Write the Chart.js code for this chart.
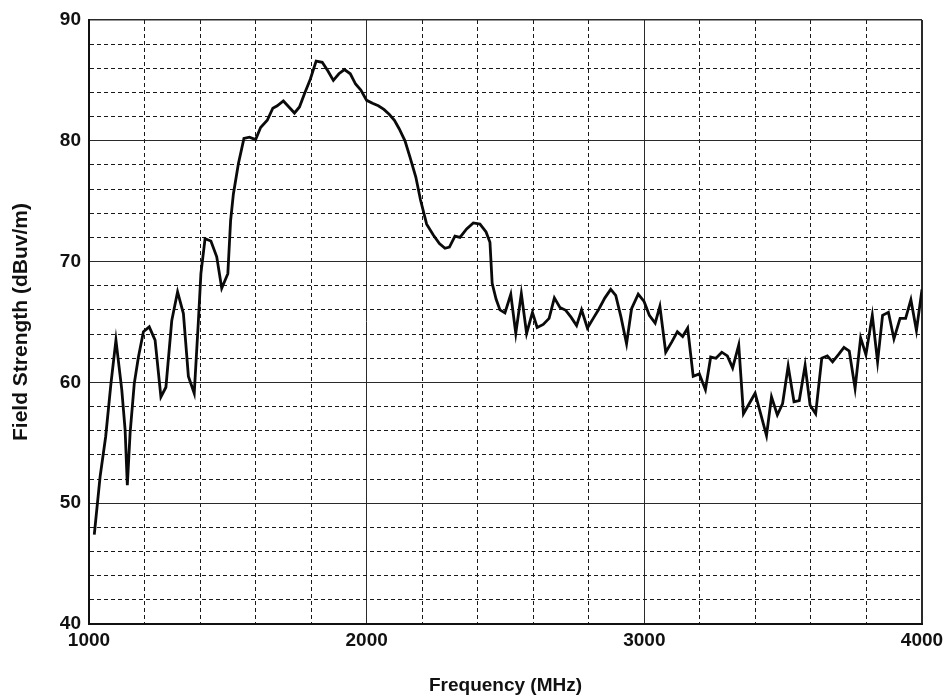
<!DOCTYPE html>
<html>
<head>
<meta charset="utf-8">
<title>Field Strength</title>
<script src="https://cdn.jsdelivr.net/npm/chart.js@4.4.1/dist/chart.umd.min.js"></script>
<style>
    html, body { margin: 0; padding: 0; background: #fff; }
    #fieldChart { display: block; }
</style>
</head>
<body>
<canvas id="fieldChart" width="950" height="700"></canvas>
<script>
// measured sweep: frequency (MHz) and field strength (dBuV/m)
const frequencies = [
    1019, 1040, 1060, 1079, 1097, 1118, 1130, 1138, 1148, 1163,
    1178, 1196, 1217, 1238, 1259, 1277, 1298, 1319, 1340, 1358,
    1379, 1394, 1403, 1418, 1439, 1460, 1478, 1500, 1510, 1520,
    1538, 1558, 1578, 1600, 1618, 1642, 1662, 1678, 1700, 1720,
    1740, 1758, 1776, 1797, 1818, 1840, 1860, 1880, 1900, 1920,
    1941, 1960, 1979, 2000, 2021, 2042, 2062, 2081, 2100, 2117,
    2138, 2156, 2177, 2194, 2216, 2240, 2262, 2282, 2298, 2318,
    2336, 2360, 2384, 2408, 2430, 2444, 2452, 2466, 2480, 2498,
    2519, 2537, 2557, 2576, 2597, 2614, 2636, 2657, 2676, 2696,
    2717, 2736, 2756, 2774, 2795, 2816, 2837, 2858, 2879, 2897,
    2916, 2936, 2954, 2978, 2999, 3018, 3039, 3056, 3077, 3099,
    3119, 3138, 3156, 3176, 3198, 3220, 3239, 3258, 3279, 3299,
    3318, 3340, 3357, 3378, 3399, 3419, 3440, 3458, 3479, 3498,
    3518, 3539, 3558, 3579, 3597, 3617, 3639, 3659, 3678, 3699,
    3719, 3738, 3759, 3779, 3798, 3821, 3840, 3858, 3879, 3899,
    3921, 3941, 3960, 3980, 4000
];

const fieldStrength = [
    47.4, 52.2, 55.5, 59.9, 63.5, 59.4, 56.1, 51.5, 55.8, 59.9,
    62.1, 64.2, 64.6, 63.5, 58.8, 59.6, 65.1, 67.5, 65.7, 60.5,
    59.1, 65.1, 69.0, 71.9, 71.7, 70.4, 67.8, 69.0, 73.4, 75.6,
    78.1, 80.2, 80.3, 80.1, 81.1, 81.7, 82.7, 82.9, 83.3, 82.8,
    82.3, 82.8, 83.9, 85.1, 86.6, 86.5, 85.8, 85.0, 85.55, 85.9,
    85.55, 84.7, 84.2, 83.35, 83.1, 82.9, 82.6, 82.2, 81.7, 81.0,
    80.0, 78.65, 77.0, 75.1, 73.1, 72.2, 71.5, 71.1, 71.2, 72.1,
    72.0, 72.7, 73.2, 73.1, 72.45, 71.6, 68.2, 66.9, 66.0, 65.75,
    67.3, 64.05, 67.35, 64.05, 65.8, 64.55, 64.8, 65.3, 67.0, 66.2,
    65.97, 65.4, 64.7, 66.0, 64.5, 65.3, 66.1, 67.0, 67.7, 67.2,
    65.4, 63.2, 66.1, 67.3, 66.7, 65.55, 64.9, 66.3, 62.5, 63.35,
    64.2, 63.8, 64.5, 60.5, 60.7, 59.4, 62.1, 62.0, 62.5, 62.2,
    61.2, 63.1, 57.4, 58.25, 59.1, 57.4, 55.6, 58.8, 57.3, 58.25,
    61.35, 58.4, 58.5, 61.4, 58.1, 57.4, 62.0, 62.2, 61.7, 62.3,
    62.9, 62.6, 59.5, 63.7, 62.3, 65.55, 61.7, 65.55, 65.8, 63.6,
    65.3, 65.3, 66.85, 64.3, 67.7
];

// axis ranges and labelled ticks
const freqRange = [1000, 4000];
const freqLabels = [1000, 2000, 3000, 4000];
const levelRange = [40, 90];
const levelLabels = [40, 50, 60, 70, 80, 90];

const points = frequencies.map((f, i) => ({ x: f, y: fieldStrength[i] }));

const fontFamily = "'Liberation Sans', Arial, sans-serif";
const tickFont = { family: fontFamily, size: 19, weight: 'bold' };

function isMajor(ctx, list) {
    return ctx.tick && list.includes(ctx.tick.value);
}

const fieldCanvas = document.getElementById('fieldChart').getContext('2d');
const fieldChart = new Chart(fieldCanvas, {
    type: 'line',
    data: {
        datasets: [{
            data: points,
            borderColor: '#0a0a0a',
            borderWidth: 2.8,
            pointRadius: 0,
            tension: 0,
            fill: false
        }]
    },
    options: {
        responsive: false,
        devicePixelRatio: 1,
        animation: false,
        layout: {
            padding: { left: 0, right: 28, top: 20, bottom: 0 }
        },
        plugins: {
            legend: { display: false },
            tooltip: { enabled: false }
        },
        scales: {
            x: {
                type: 'linear',
                min: freqRange[0],
                max: freqRange[1],
                afterFit: function(scale) {
                    scale.height = 76;
                },
                ticks: {
                    stepSize: 200,
                    autoSkip: false,
                    maxRotation: 0,
                    padding: 5,
                    color: '#111',
                    font: tickFont,
                    callback: function(value) {
                        return freqLabels.includes(value) ? String(value) : '';
                    }
                },
                grid: {
                    drawTicks: false,
                    color: ctx => isMajor(ctx, freqLabels) ? '#2a2a2a' : '#1a1a1a',
                    lineWidth: ctx => (ctx.tick && ctx.tick.value === freqRange[1]) ? 2 : 1
                },
                border: {
                    color: '#111',
                    width: 2,
                    dash: ctx => (ctx.tick && !freqLabels.includes(ctx.tick.value)) ? [4, 3] : []
                },
                title: {
                    display: true,
                    text: 'Frequency (MHz)',
                    color: '#111',
                    font: { family: fontFamily, size: 19, weight: 'bold' },
                    padding: { top: 0, bottom: 3 }
                }
            },
            y: {
                type: 'linear',
                min: levelRange[0],
                max: levelRange[1],
                afterFit: function(scale) {
                    scale.width = 89;
                },
                ticks: {
                    stepSize: 2,
                    autoSkip: false,
                    padding: 8,
                    color: '#111',
                    font: tickFont,
                    callback: function(value) {
                        return levelLabels.includes(value) ? String(value) : '';
                    }
                },
                grid: {
                    drawTicks: false,
                    color: ctx => isMajor(ctx, levelLabels) ? '#2a2a2a' : '#1a1a1a',
                    lineWidth: ctx => (ctx.tick && ctx.tick.value === levelRange[1]) ? 1.5 : 1
                },
                border: {
                    color: '#111',
                    width: 2,
                    dash: ctx => (ctx.tick && !levelLabels.includes(ctx.tick.value)) ? [4, 3] : []
                },
                title: {
                    display: true,
                    text: 'Field Strength (dBuv/m)',
                    color: '#111',
                    font: { family: fontFamily, size: 21, weight: 'bold' },
                    padding: { top: 9, bottom: 0 }
                }
            }
        }
    }
});
</script>
</body>
</html>
